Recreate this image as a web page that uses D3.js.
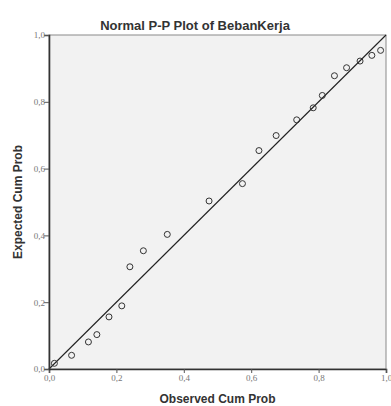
<!DOCTYPE html>
<html>
<head>
<meta charset="utf-8">
<script src="https://cdn.jsdelivr.net/npm/d3@7"></script>
<style>
  body { margin: 0; background: #fff; }
  svg { display: block; font-family: "Liberation Sans", Arial, sans-serif; }
</style>
</head>
<body>
<svg id="chart"></svg>
<script>
// observed / expected cumulative probabilities
var observed = [0.016, 0.067, 0.117, 0.142, 0.178, 0.216, 0.240, 0.280, 0.351, 0.475,
                0.574, 0.623, 0.674, 0.735, 0.784, 0.811, 0.847, 0.883, 0.923, 0.958, 0.984]
var expected = [0.017, 0.041, 0.081, 0.103, 0.156, 0.189, 0.306, 0.354, 0.403, 0.503,
                0.555, 0.654, 0.699, 0.746, 0.782, 0.819, 0.878, 0.902, 0.922, 0.939, 0.954]
var tickValues = [0, 0.2, 0.4, 0.6, 0.8, 1.0]
var tickLabels = ["0,0", "0,2", "0,4", "0,6", "0,8", "1,0"]

var svg = d3.select("#chart")
    .attr("width", 391)
    .attr("height", 406)

var margin = {top: 35, right: 5, bottom: 37, left: 49}
var w = 391 - margin.left - margin.right
var h = 406 - margin.top - margin.bottom

var x = d3.scaleLinear().domain([0, 1]).range([0, w])
var y = d3.scaleLinear().domain([0, 1]).range([h, 0])

var g = svg.append("g")
    .attr("transform", `translate(${margin.left}, ${margin.top})`)

// plot background + top/right frame
g.append("rect")
    .attr("width", w)
    .attr("height", h)
    .attr("fill", "#f2f2f2")
    .attr("stroke", "#8a8a8a")
    .attr("stroke-width", 1)

// reference line
g.append("line")
    .attr("x1", x(0)).attr("y1", y(0))
    .attr("x2", x(1)).attr("y2", y(1))
    .attr("stroke", "#222")
    .attr("stroke-width", 1.1)

// points
var pts = observed.map((o, i) => ({o: o, e: expected[i]}))
g.selectAll("circle")
    .data(pts)
    .enter()
    .append("circle")
    .attr("cx", d => x(d.o))
    .attr("cy", d => y(d.e))
    .attr("r", 3)
    .attr("fill", "none")
    .attr("stroke", "#333")
    .attr("stroke-width", 1)

// axes
var xAxis = d3.axisBottom(x).tickValues(tickValues).tickSize(4)
    .tickFormat((d, i) => tickLabels[i])
var yAxis = d3.axisLeft(y).tickValues(tickValues).tickSize(5)
    .tickFormat((d, i) => tickLabels[i])

var gx = g.append("g")
    .attr("transform", `translate(0, ${h})`)
    .call(xAxis)
var gy = g.append("g").call(yAxis)

;[gx, gy].forEach(a => {
    a.select(".domain").attr("stroke", "#333").attr("stroke-width", 1.6)
    a.selectAll(".tick line").attr("stroke", "#555")
    a.selectAll(".tick text")
        .attr("fill", "#777")
        .style("font-family", "'Liberation Serif', serif")
        .style("font-size", "9px")
})
gy.selectAll(".tick text").attr("x", -4)
gx.selectAll(".tick text").attr("y", 6)

// titles
svg.append("text")
    .attr("x", 195)
    .attr("y", 30)
    .attr("text-anchor", "middle")
    .attr("font-weight", "bold")
    .attr("font-size", 13)
    .attr("fill", "#333")
    .text("Normal P-P Plot of BebanKerja")

svg.append("text")
    .attr("x", margin.left + w / 2)
    .attr("y", 403)
    .attr("text-anchor", "middle")
    .attr("font-weight", "bold")
    .attr("font-size", 12)
    .attr("fill", "#333")
    .text("Observed Cum Prob")

svg.append("text")
    .attr("transform", `translate(22, ${margin.top + h / 2}) rotate(-90)`)
    .attr("text-anchor", "middle")
    .attr("font-weight", "bold")
    .attr("font-size", 12)
    .attr("fill", "#333")
    .text("Expected Cum Prob")
</script>
</body>
</html>
